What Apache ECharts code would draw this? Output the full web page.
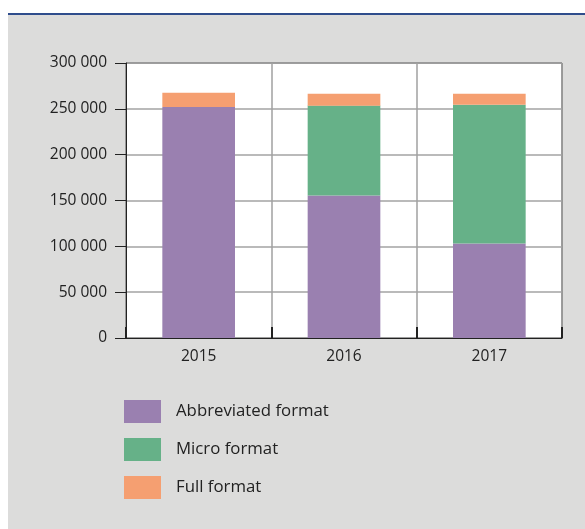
<!DOCTYPE html>
<html>
<head>
<meta charset="utf-8">
<script src="https://cdn.jsdelivr.net/npm/echarts@6/dist/echarts.min.js"></script>
<style>
  html, body { margin: 0; padding: 0; background: #ffffff; }
  #chart { width: 585px; height: 529px; }
</style>
</head>
<body>
<div id="chart"></div>
<script>
// Filing counts by format, per year
const years = ['2015', '2016', '2017'];
const abbreviated = [252000, 155500, 103000];
const micro = [0, 98000, 151500];
const full = [15500, 13000, 12000];
const seriesNames = ['Abbreviated format', 'Micro format', 'Full format'];
const colors = ['#9a80b0', '#66b188', '#f59f71'];

const font = '"Open Sans", "Noto Sans", sans-serif';

function spaced(v) {
  return String(v).replace(/\B(?=(\d{3})+(?!\d))/g, ' ');
}

const chart = echarts.init(document.getElementById('chart'));
chart.setOption({
  backgroundColor: '#ffffff',
  animation: false,
  graphic: [
    { type: 'rect', z: -10, shape: { x: 8, y: 13, width: 577, height: 516 }, style: { fill: '#dcdcdb' } },
    { type: 'rect', z: -9, shape: { x: 8, y: 13, width: 577, height: 2 }, style: { fill: '#2f4d8c' } }
  ],
  color: colors,
  grid: {
    left: 126, right: 23, top: 63, bottom: 191,
    show: true, backgroundColor: '#ffffff', borderColor: '#222222', borderWidth: 1
  },
  legend: {
    orient: 'vertical',
    left: 124, top: 400,
    padding: 0,
    itemWidth: 37, itemHeight: 23, itemGap: 15,
    icon: 'rect',
    data: seriesNames,
    textStyle: { fontFamily: font, fontSize: 16.8, color: '#222222', padding: [0, 0, 0, 10] }
  },
  xAxis: {
    type: 'category',
    data: years,
    axisLine: { lineStyle: { color: '#222222', width: 1 } },
    axisTick: { show: true, inside: true, length: 11, lineStyle: { color: '#222222', width: 2 } },
    splitLine: { show: true, lineStyle: { color: '#a0a0a0', width: 1.5 } },
    axisLabel: { fontFamily: font, fontSize: 15.5, color: '#222222', margin: 11 }
  },
  yAxis: {
    type: 'value',
    min: 0, max: 300000, interval: 50000,
    axisLine: { show: true, lineStyle: { color: '#222222', width: 1 } },
    axisTick: { show: true, length: 11, lineStyle: { color: '#222222' } },
    splitLine: { show: true, lineStyle: { color: '#a3a3a3', width: 1.5 } },
    axisLabel: { fontFamily: font, fontSize: 15.5, color: '#222222', margin: 19, formatter: spaced }
  },
  series: [
    { name: seriesNames[0], type: 'bar', stack: 'total', data: abbreviated, barWidth: '50%' },
    { name: seriesNames[1], type: 'bar', stack: 'total', data: micro, barWidth: '50%' },
    { name: seriesNames[2], type: 'bar', stack: 'total', data: full, barWidth: '50%' }
  ]
});
</script>
</body>
</html>
